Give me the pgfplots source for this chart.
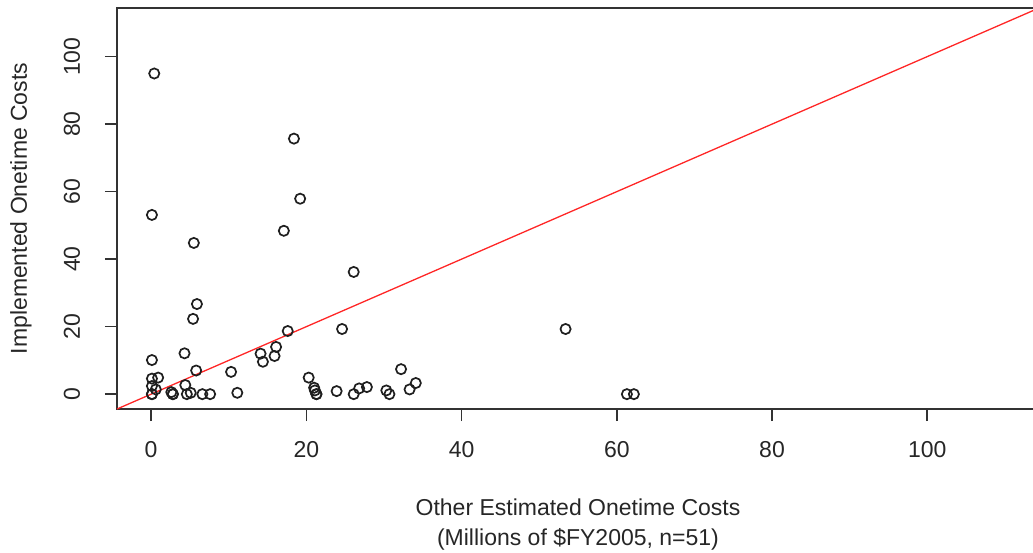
\documentclass[border=0pt]{standalone}
\usepackage{pgfplots}
\pgfplotsset{compat=1.18}
\usepackage{fontspec}
\setmainfont{Liberation Sans}
\begin{document}
\begin{tikzpicture}
\begin{axis}[
  scale only axis,
  width=461pt, height=200.5pt,
  xmin=-4.4, xmax=114.4, ymin=-4.4, ymax=114.4,
  xtick={0,20,40,60,80,100}, ytick={0,20,40,60,80,100},
  tick align=outside, tick pos=left,
  major tick length=6pt,
  every tick/.style={black!80, line width=0.75pt},
  axis line style={black!80, line width=0.75pt},
  font=\fontsize{11.5}{14}\selectfont,
  /pgf/number format/assume math mode=true,
  xticklabel style={anchor=center, yshift=-14.5pt, text=black!85},
  yticklabel style={xshift=-16.5pt, rotate=90, anchor=center, text=black!85},
  xlabel={Other Estimated Onetime Costs\\(Millions of \$FY2005, n=51)},
  xlabel style={align=center, font=\fontsize{11.5}{15}\selectfont, at={(axis description cs:0.5,0)}, anchor=center, yshift=-58pt, text=black!85},
  ylabel={Implemented Onetime Costs},
  ylabel style={at={(axis description cs:-0.1041,0.5)}, anchor=center, text=black!85},
  clip=true,
]
\addplot[only marks, mark=o, mark size=2.55pt, mark options={line width=0.85pt, draw=black!88}] coordinates {
(0.4,95.0) (0.1,53.1) (5.5,44.8) (18.4,75.7) (19.2,57.9) (17.1,48.4)
(26.1,36.2) (5.9,26.7) (5.4,22.3) (17.6,18.7) (24.6,19.3) (53.4,19.3)
(0.1,10.1) (4.3,12.1) (14.1,12.0) (14.4,9.6) (16.1,14.0) (15.9,11.3)
(5.8,7.0) (10.3,6.6) (32.2,7.4) (0.1,4.6) (0.9,4.9) (20.3,4.9)
(4.4,2.7) (0.1,2.4) (0.6,1.4) (0.1,0.0) (2.6,0.6) (2.8,0.0)
(4.6,0.0) (5.1,0.4) (6.6,0.0) (7.6,0.0) (11.1,0.4) (21.0,1.9)
(21.1,1.1) (21.3,0.0) (23.9,0.9) (26.1,0.0) (26.8,1.7) (27.8,2.1)
(30.3,1.1) (30.7,0.0) (33.3,1.4) (34.1,3.3) (61.3,0.0) (62.2,0.0)
(0.1,0.0) (21.3,0.0) (2.8,0.0)
};
\addplot[red!85!white, line width=0.65pt] coordinates {(-4.4,-4.4) (114.4,114.4)};
\coordinate (sw) at (rel axis cs:0,0);
\coordinate (ne) at (rel axis cs:1,1);
\end{axis}
\pgfresetboundingbox
\useasboundingbox ([xshift=-58.5pt,yshift=-71.5pt]sw) rectangle ([xshift=-3pt,yshift=4pt]ne);
\end{tikzpicture}
\end{document}
